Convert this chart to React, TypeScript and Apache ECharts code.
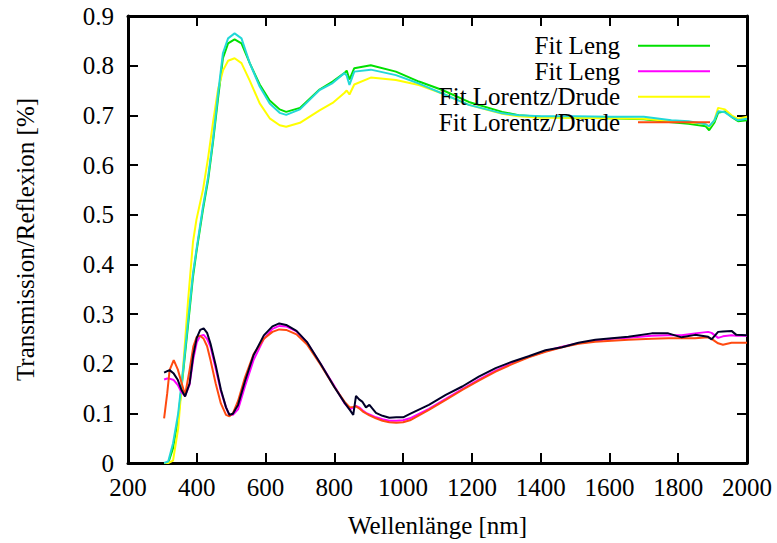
import React, { useEffect, useRef } from "react";
import * as echarts from "echarts";

// Transmission curves, sampled on a shared wavelength grid (nm)
const wlT = [305, 317, 331, 346, 360, 375, 389, 399, 418, 433, 447, 462, 476, 491, 510, 530, 554, 583, 612, 641, 660, 700, 757, 795, 829, 836, 844, 858, 906, 979, 1046, 1114, 1191, 1288, 1336, 1400, 1500, 1600, 1700, 1780, 1830, 1880, 1890, 1905, 1916, 1936, 1955, 1974, 2000];
const measT = [0, 0.003, 0.04, 0.1, 0.187, 0.288, 0.382, 0.429, 0.516, 0.576, 0.65, 0.744, 0.825, 0.855, 0.865, 0.855, 0.805, 0.758, 0.724, 0.705, 0.701, 0.712, 0.751, 0.765, 0.785, 0.78, 0.761, 0.788, 0.792, 0.781, 0.764, 0.744, 0.721, 0.704, 0.7, 0.698, 0.698, 0.697, 0.697, 0.69, 0.688, 0.682, 0.678, 0.69, 0.708, 0.706, 0.697, 0.69, 0.693];
const lengT = [0, 0, 0.03, 0.09, 0.18, 0.28, 0.375, 0.425, 0.51, 0.57, 0.645, 0.735, 0.815, 0.845, 0.853, 0.845, 0.805, 0.762, 0.73, 0.712, 0.707, 0.715, 0.752, 0.768, 0.785, 0.79, 0.772, 0.795, 0.801, 0.788, 0.768, 0.751, 0.727, 0.707, 0.7, 0.697, 0.695, 0.694, 0.692, 0.686, 0.683, 0.678, 0.67, 0.685, 0.705, 0.708, 0.697, 0.688, 0.69];
const drudeT = [0, 0, 0.005, 0.07, 0.19, 0.33, 0.445, 0.49, 0.55, 0.615, 0.685, 0.753, 0.79, 0.81, 0.815, 0.805, 0.77, 0.724, 0.694, 0.68, 0.677, 0.685, 0.71, 0.725, 0.745, 0.75, 0.742, 0.762, 0.776, 0.771, 0.761, 0.744, 0.721, 0.703, 0.698, 0.695, 0.695, 0.694, 0.693, 0.688, 0.686, 0.682, 0.676, 0.69, 0.715, 0.712, 0.7, 0.693, 0.697];

// Reflection curves, sampled on a shared wavelength grid (nm)
const wlR = [305, 314, 321, 333, 345, 355, 366, 379, 390, 400, 410, 420, 430, 440, 455, 470, 485, 495, 505, 520, 540, 565, 595, 620, 640, 660, 690, 720, 760, 800, 830, 845, 855, 863, 872, 882, 892, 902, 921, 940, 960, 980, 1000, 1020, 1075, 1124, 1172, 1220, 1269, 1317, 1365, 1414, 1462, 1510, 1559, 1607, 1655, 1723, 1771, 1810, 1849, 1887, 1897, 1916, 1930, 1955, 1969, 2000];
const measR = [0.182, 0.185, 0.187, 0.18, 0.167, 0.148, 0.134, 0.16, 0.218, 0.252, 0.268, 0.271, 0.262, 0.24, 0.197, 0.148, 0.112, 0.097, 0.099, 0.117, 0.164, 0.217, 0.257, 0.275, 0.281, 0.278, 0.266, 0.244, 0.2, 0.153, 0.121, 0.107, 0.097, 0.135, 0.128, 0.123, 0.112, 0.117, 0.101, 0.095, 0.091, 0.092, 0.092, 0.099, 0.117, 0.137, 0.154, 0.174, 0.191, 0.204, 0.215, 0.227, 0.233, 0.242, 0.248, 0.251, 0.254, 0.261, 0.261, 0.253, 0.258, 0.254, 0.249, 0.264, 0.265, 0.266, 0.258, 0.257];
const lengR = [0.168, 0.17, 0.17, 0.167, 0.157, 0.143, 0.135, 0.158, 0.21, 0.243, 0.256, 0.258, 0.25, 0.234, 0.19, 0.145, 0.112, 0.096, 0.097, 0.108, 0.154, 0.207, 0.25, 0.27, 0.276, 0.275, 0.265, 0.243, 0.2, 0.155, 0.12, 0.108, 0.112, 0.115, 0.112, 0.106, 0.101, 0.098, 0.092, 0.088, 0.085, 0.085, 0.086, 0.09, 0.109, 0.129, 0.149, 0.168, 0.186, 0.201, 0.214, 0.225, 0.234, 0.241, 0.246, 0.25, 0.252, 0.256, 0.257, 0.257, 0.261, 0.264, 0.262, 0.252, 0.255, 0.257, 0.256, 0.256];
const drudeR = [0.09, 0.14, 0.187, 0.207, 0.188, 0.163, 0.137, 0.187, 0.235, 0.254, 0.256, 0.25, 0.235, 0.207, 0.16, 0.12, 0.097, 0.094, 0.1, 0.125, 0.172, 0.219, 0.25, 0.264, 0.269, 0.268, 0.259, 0.239, 0.198, 0.153, 0.123, 0.112, 0.113, 0.114, 0.11, 0.104, 0.1, 0.096, 0.09, 0.085, 0.082, 0.081, 0.082, 0.086, 0.107, 0.127, 0.147, 0.166, 0.184, 0.199, 0.213, 0.224, 0.233, 0.24, 0.244, 0.246, 0.248, 0.25, 0.251, 0.251, 0.251, 0.253, 0.25, 0.241, 0.238, 0.242, 0.242, 0.242];

const legendNames = ["Fit Leng T", "Fit Leng R", "Fit Lorentz/Drude T", "Fit Lorentz/Drude R"];

const FONT = "Liberation Serif";

function pairs(xs: number[], ys: number[]) {
  return xs.map((x, i) => [x, ys[i]]);
}

export default function App() {
  const ref = useRef<HTMLDivElement>(null);
  useEffect(() => {
    if (!ref.current) return;
    document.body.style.margin = "0";
    const chart = echarts.init(ref.current, null, { renderer: "svg" });
    const mkLine = () => ({ show: true, onZero: false, lineStyle: { color: "#000", width: 3 } });
    const mkTick = () => ({ show: true, inside: true, length: 10, lineStyle: { color: "#000", width: 2 } });
    const mk = (name: string, color: string, xs: number[], ys: number[]) => ({
      name,
      type: "line",
      data: pairs(xs, ys),
      showSymbol: false,
      symbol: "none",
      lineStyle: { color, width: 2 },
      itemStyle: { color },
      xAxisIndex: 0,
      yAxisIndex: 0,
    });
    chart.setOption({
      animation: false,
      textStyle: { fontFamily: FONT },
      grid: { left: 128, right: 30, top: 16, bottom: 80 },
      legend: {
        data: legendNames,
        orient: "vertical",
        right: 62,
        top: 28,
        icon: "rect",
        itemWidth: 72,
        itemHeight: 2,
        itemGap: 0,
        align: "right",
        formatter: (n: string) => n.replace(/ [TR]$/, ""),
        textStyle: {
          fontFamily: FONT,
          fontSize: 25,
          color: "#000",
          width: 230,
          align: "right",
          lineHeight: 25.5,
          padding: [0, 13, 0, 0],
        },
      },
      xAxis: [
        {
          type: "value",
          min: 200,
          max: 2000,
          interval: 200,
          position: "bottom",
          name: "Wellenlänge [nm]",
          nameLocation: "middle",
          nameGap: 50,
          nameTextStyle: { fontFamily: FONT, fontSize: 25, color: "#000" },
          axisLine: mkLine(),
          axisTick: mkTick(),
          splitLine: { show: false },
          axisLabel: {
            fontFamily: FONT,
            fontSize: 25,
            color: "#000",
            margin: 12,
            formatter: (v: number) => String(v),
          },
        },
        {
          type: "value",
          min: 200,
          max: 2000,
          interval: 200,
          position: "top",
          axisLine: mkLine(),
          axisTick: mkTick(),
          splitLine: { show: false },
          axisLabel: { show: false },
        },
      ],
      yAxis: [
        {
          type: "value",
          min: 0,
          max: 0.9,
          interval: 0.1,
          position: "left",
          name: "Transmission/Reflexion [%]",
          nameLocation: "middle",
          nameGap: 90,
          nameTextStyle: { fontFamily: FONT, fontSize: 25, color: "#000" },
          axisLine: mkLine(),
          axisTick: mkTick(),
          splitLine: { show: false },
          axisLabel: {
            fontFamily: FONT,
            fontSize: 25,
            color: "#000",
            margin: 14,
            formatter: (v: number) => (v === 0 ? "0" : v.toFixed(1)),
          },
        },
        {
          type: "value",
          min: 0,
          max: 0.9,
          interval: 0.1,
          position: "right",
          axisLine: mkLine(),
          axisTick: mkTick(),
          splitLine: { show: false },
          axisLabel: { show: false },
        },
      ],
      series: [
        mk("Fit Leng T", "#00e000", wlT, lengT),
        mk("Fit Lorentz/Drude T", "#ffff00", wlT, drudeT),
        mk("Messung T", "#22d8d8", wlT, measT),
        mk("Fit Leng R", "#ff00ff", wlR, lengR),
        mk("Fit Lorentz/Drude R", "#ff4a10", wlR, drudeR),
        mk("Messung R", "#000028", wlR, measR),
      ],
    });
    return () => chart.dispose();
  }, []);
  return <div ref={ref} style={{ width: 777, height: 543, background: "#fff" }} />;
}
